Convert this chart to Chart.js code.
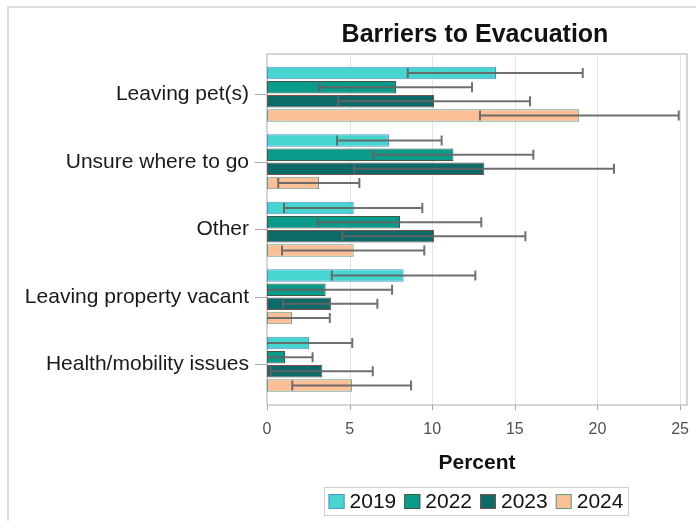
<!DOCTYPE html>
<html>
<head>
<meta charset="utf-8">
<title>Barriers to Evacuation</title>
<script src="https://cdn.jsdelivr.net/npm/chart.js@4/dist/chart.umd.min.js"></script>
<style>
  html, body { margin: 0; padding: 0; background: #ffffff; }
  canvas { display: block; }
</style>
</head>
<body>
<canvas id="chart" width="696" height="521"></canvas>
<script>
// Survey categories (top to bottom) and survey years
const categories = [
  'Leaving pet(s)',
  'Unsure where to go',
  'Other',
  'Leaving property vacant',
  'Health/mobility issues'
];
const years = ['2019', '2022', '2023', '2024'];

// Percent of respondents, with lower/upper confidence limits.
// A null lower limit means the interval runs below zero and is cut at the axis.
const pct2019  = [13.86, 7.38, 5.25, 8.27, 2.55];
const low2019  = [8.52, 4.24, 1.03, 3.92, null];
const high2019 = [19.11, 10.57, 9.40, 12.61, 5.16];

const pct2022  = [7.81, 11.28, 8.05, 3.55, 1.09];
const low2022  = [3.17, 6.43, 3.07, null, null];
const high2022 = [12.41, 16.12, 12.97, 7.57, 2.76];

const pct2023  = [10.11, 13.15, 10.11, 3.87, 3.35];
const low2023  = [4.30, 5.28, 4.56, 0.97, 0.22];
const high2023 = [15.92, 21.00, 15.64, 6.68, 6.40];

const pct2024  = [18.90, 3.15, 5.25, 1.51, 5.14];
const low2024  = [12.89, 0.68, 0.91, null, 1.53];
const high2024 = [24.92, 5.59, 9.52, 3.80, 8.72];

// Percent axis
const xTicks = [0, 5, 10, 15, 20, 25];
const xMax = 25.42;

const FONT = "'Liberation Sans', Arial, Helvetica, sans-serif";

// Extra room between the plot frame and the first/last category band
const FRAME_PAD_TOP = 6.5;
const FRAME_PAD_BOTTOM = 7;

// White page with a thin grey border along the top and left edges
const pageBackground = {
  id: 'pageBackground',
  beforeDraw(chart) {
    const { ctx, width, height } = chart;
    ctx.save();
    ctx.fillStyle = '#ffffff';
    ctx.fillRect(0, 0, width, height);
    ctx.strokeStyle = '#dedede';
    ctx.lineWidth = 2;
    ctx.beginPath();
    ctx.moveTo(width, 7);
    ctx.lineTo(8, 7);
    ctx.lineTo(8, height);
    ctx.stroke();
    ctx.restore();
  }
};

// Plot frame, vertical grid lines and the short tick marks on both axes
const plotFrame = {
  id: 'plotFrame',
  beforeDatasetsDraw(chart) {
    const { ctx, chartArea: a, scales: { x, y } } = chart;
    const top = a.top - FRAME_PAD_TOP;
    const bottom = a.bottom + FRAME_PAD_BOTTOM;
    ctx.save();
    // grid
    ctx.strokeStyle = '#e3e4ea';
    ctx.lineWidth = 1;
    x.ticks.forEach(t => {
      if (t.value === 0) return;
      const px = Math.round(x.getPixelForValue(t.value)) + 0.5;
      ctx.beginPath();
      ctx.moveTo(px, top);
      ctx.lineTo(px, bottom);
      ctx.stroke();
    });
    // frame
    ctx.strokeStyle = '#c6c8cc';
    ctx.lineWidth = 1.5;
    ctx.strokeRect(a.left, top, a.right - a.left, bottom - top);
    // x tick marks
    ctx.strokeStyle = '#a8a8a8';
    ctx.lineWidth = 1;
    x.ticks.forEach(t => {
      const px = Math.round(x.getPixelForValue(t.value)) + 0.5;
      ctx.beginPath();
      ctx.moveTo(px, bottom);
      ctx.lineTo(px, bottom + 5);
      ctx.stroke();
    });
    // category tick marks
    y.ticks.forEach((t, i) => {
      const py = Math.round(y.getPixelForTick(i)) + 0.5;
      ctx.beginPath();
      ctx.moveTo(a.left - 12, py);
      ctx.lineTo(a.left, py);
      ctx.stroke();
    });
    ctx.restore();
  }
};

// Confidence-limit whiskers drawn across each bar
const errorBars = {
  id: 'errorBars',
  afterDatasetsDraw(chart) {
    const { ctx, scales: { x } } = chart;
    ctx.save();
    ctx.strokeStyle = 'rgba(100,100,100,0.92)';
    ctx.lineWidth = 2;
    const cap = 5;
    chart.data.datasets.forEach((ds, i) => {
      const meta = chart.getDatasetMeta(i);
      meta.data.forEach((bar, j) => {
        const lo = ds.lower[j];
        const hi = ds.upper[j];
        const yc = bar.y;
        const x0 = lo == null ? x.getPixelForValue(0) : x.getPixelForValue(lo);
        const x1 = x.getPixelForValue(hi);
        ctx.beginPath();
        ctx.moveTo(x0, yc);
        ctx.lineTo(x1, yc);
        ctx.moveTo(x1, yc - cap);
        ctx.lineTo(x1, yc + cap);
        if (lo != null) {
          ctx.moveTo(x0, yc - cap);
          ctx.lineTo(x0, yc + cap);
        }
        ctx.stroke();
      });
    });
    ctx.restore();
  }
};

// Chart title and the boxed legend underneath the axis title
const titleAndLegend = {
  id: 'titleAndLegend',
  afterDraw(chart) {
    const { ctx, chartArea: a } = chart;
    ctx.save();
    // title
    ctx.fillStyle = '#111111';
    ctx.font = 'bold 25px ' + FONT;
    ctx.textAlign = 'center';
    ctx.textBaseline = 'alphabetic';
    ctx.fillText('Barriers to Evacuation', (a.left + a.right) / 2 - 2, 42);

    // legend
    ctx.font = '21px ' + FONT;
    const ds = chart.data.datasets;
    const box = 16, boxH = 15, gap = 5, itemGap = 8;
    let total = 0;
    ds.forEach(d => { total += box + gap + ctx.measureText(d.label).width; });
    total += itemGap * (ds.length - 1);
    const cx = (a.left + a.right) / 2 - 1;
    let x0 = cx - total / 2;
    const yc = 501.5;
    ctx.strokeStyle = '#cfcfcf';
    ctx.lineWidth = 1;
    ctx.strokeRect(Math.round(x0 - 4.5) + 0.5, 487.5, Math.round(total + 9), 28);
    ctx.textAlign = 'left';
    ctx.textBaseline = 'middle';
    ds.forEach(d => {
      ctx.fillStyle = d.backgroundColor;
      ctx.fillRect(x0, yc - boxH / 2, box, boxH);
      ctx.strokeStyle = d.borderColor;
      ctx.lineWidth = 1;
      ctx.strokeRect(x0 + 0.5, yc - boxH / 2 + 0.5, box - 1, boxH - 1);
      ctx.fillStyle = '#111111';
      ctx.fillText(d.label, x0 + box + gap, yc + 1);
      x0 += box + gap + ctx.measureText(d.label).width + itemGap;
    });
    ctx.restore();
  }
};

function series(label, values, lower, upper, fill, edge) {
  return {
    label: label,
    data: values,
    lower: lower,
    upper: upper,
    backgroundColor: fill,
    borderColor: edge,
    borderWidth: 1,
    borderSkipped: false,
    categoryPercentage: 0.84,
    barPercentage: 0.88
  };
}

new Chart(document.getElementById('chart'), {
  type: 'bar',
  data: {
    labels: categories,
    datasets: [
      series(years[0], pct2019, low2019, high2019, '#46d6cf', '#5b8fcf'),
      series(years[1], pct2022, low2022, high2022, '#0b9b8b', '#3f5a44'),
      series(years[2], pct2023, low2023, high2023, '#0c6a68', '#7a5048'),
      series(years[3], pct2024, low2024, high2024, '#fbbf98', '#5e9f88')
    ]
  },
  options: {
    indexAxis: 'y',
    responsive: false,
    animation: false,
    events: [],
    layout: { padding: { top: 60.5, left: 0, right: 9, bottom: 43 } },
    plugins: {
      legend: { display: false },
      title: { display: false },
      tooltip: { enabled: false }
    },
    scales: {
      x: {
        type: 'linear',
        min: 0,
        max: xMax,
        grid: { display: false, drawTicks: false },
        border: { display: false },
        ticks: {
          stepSize: 5,
          padding: 22,
          color: '#505050',
          font: { family: FONT, size: 16 }
        },
        afterBuildTicks(scale) {
          scale.ticks = xTicks.map(v => ({ value: v }));
        },
        afterFit(scale) {
          scale.height = 80;
          scale.paddingLeft = 0;
          scale.paddingRight = 0;
        },
        title: {
          display: true,
          text: 'Percent',
          color: '#111111',
          font: { family: FONT, size: 21, weight: 'bold' },
          padding: { top: 0, bottom: 2 }
        }
      },
      y: {
        type: 'category',
        grid: { display: false, drawTicks: false },
        border: { display: false },
        ticks: {
          padding: 18,
          color: '#1a1a1a',
          font: { family: FONT, size: 21 }
        },
        afterFit(scale) {
          scale.width = 267;
          scale.paddingTop = 0;
          scale.paddingBottom = 0;
        }
      }
    }
  },
  plugins: [pageBackground, plotFrame, errorBars, titleAndLegend]
});
</script>
</body>
</html>
